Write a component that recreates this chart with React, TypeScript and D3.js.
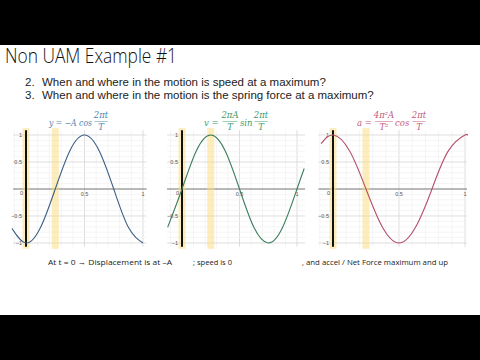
import * as d3 from 'd3'
import React from 'react'

// values (t in periods, value in units of amplitude)
const tDisp = [-0.12, 0, 0.125, 0.25, 0.375, 0.5, 0.625, 0.75, 0.875, 1]
const disp = [-0.73, -1, -0.71, 0, 0.71, 1, 0.71, 0, -0.71, -1]

const tVel = [-0.125, 0, 0.125, 0.25, 0.375, 0.5, 0.625, 0.75, 0.875, 1, 1.0625]
const vel = [-0.71, 0, 0.71, 1, 0.71, 0, -0.71, -1, -0.71, 0, 0.38]

const tAcc = [-0.09, 0, 0.125, 0.25, 0.375, 0.5, 0.625, 0.75, 0.875, 1, 1.015]
const acc = [0.84, 1, 0.71, 0, -0.71, -1, -0.71, 0, 0.71, 1, 0.99]

const xTickLabels = [0.5, 1]
const yTickLabels = [1, 0.5, -0.5, -1]
const highlightT = [0, 0.25]

const questions = [
  ['2.', 'When and where in the motion is speed at a maximum?'],
  ['3.', 'When and where in the motion is the spring force at a maximum?'],
]

const W = 480
const H = 360

interface PanelProps {
  t: number[]
  v: number[]
  x0: number
  x1: number
  tMin: number
  tMax: number
  color: string
}

const y = d3.scaleLinear().domain([-1, 1]).range([243, 135])

const isMajor = (d: number) => Math.abs(d * 2 - Math.round(d * 2)) < 1e-6

const Panel: React.FC<PanelProps> = ({ t, v, x0, x1, tMin, tMax, color }) => {
  const x = d3.scaleLinear().domain([0, 1]).range([x0, x1])
  const minorX = d3.range(Math.ceil(tMin * 10), Math.floor(tMax * 10) + 1).map((d) => d / 10)
  const minorY = d3.range(-10, 11).map((d) => d / 10)
  const yTop = y(1.09)
  const yBot = y(-1.07)

  const line = d3
    .line<number>()
    .x((d, i) => x(t[i]))
    .y((d) => y(d))
    .curve(d3.curveNatural)

  const lbl = { fontSize: 5.5, fill: '#555', fontFamily: 'Liberation Sans' }

  return (
    <g>
      {/* grid */}
      {minorX.map((d) => (
        <line key={'mx' + d} x1={x(d)} x2={x(d)} y1={yTop} y2={yBot} stroke={isMajor(d) ? '#d0d0d0' : '#f0f0f0'} strokeWidth={0.7} />
      ))}
      {minorY.map((d) => (
        <line key={'my' + d} x1={x(tMin)} x2={x(tMax)} y1={y(d)} y2={y(d)} stroke={isMajor(d) ? '#d0d0d0' : '#f0f0f0'} strokeWidth={0.7} />
      ))}
      {/* x axis */}
      <line x1={x(tMin)} x2={x(tMax)} y1={y(0)} y2={y(0)} stroke='#777' strokeWidth={0.9} />
      {/* highlight bands */}
      {highlightT.map((d) => (
        <rect key={'h' + d} x={x(d) - 3.5} width={7} y={yTop - 2} height={yBot - yTop + 4} fill='#fbd97a' opacity={0.5} />
      ))}
      <line x1={x(0)} x2={x(0)} y1={yTop} y2={yBot} stroke='#111' strokeWidth={2} />
      {/* tick labels */}
      {yTickLabels.map((d) => (
        <text key={'yl' + d} x={x(0) - 4} y={y(d) + 2} textAnchor='end' style={lbl}>
          {d < 0 ? '\u2212' + Math.abs(d) : d}
        </text>
      ))}
      <text x={x(0) - 3} y={y(0) + 6} textAnchor='end' style={lbl}>
        0
      </text>
      {xTickLabels.map((d) => (
        <text key={'xl' + d} x={x(d)} y={y(0) + 6.5} textAnchor='middle' style={lbl}>
          {d}
        </text>
      ))}
      <path d={line(v) || ''} fill='none' stroke={color} strokeWidth={1.1} />
    </g>
  )
}

type ReactNodeLike = React.ReactNode

const Frac: React.FC<{ cx: number; num: ReactNodeLike; den: ReactNodeLike; w: number }> = ({ cx, num, den, w }) => (
  <g>
    <text x={cx} y={118} textAnchor='middle'>
      {num}
    </text>
    <line x1={cx - w / 2} x2={cx + w / 2} y1={121.5} y2={121.5} stroke='currentColor' strokeWidth={0.5} />
    <text x={cx} y={130} textAnchor='middle'>
      {den}
    </text>
  </g>
)

const formulaStyle = { fontFamily: 'DejaVu Serif', fontStyle: 'italic', fontSize: 8.5 } as const

const App: React.FC = () => {
  return (
    <svg width={W} height={H} style={{ position: 'absolute', left: 0, top: 0, background: '#fff' }}>
      <rect x={0} y={0} width={W} height={45} fill='#000' />
      <rect x={0} y={315} width={W} height={45} fill='#000' />

      <text x={5} y={63} style={{ fontFamily: 'Open Sans', fontWeight: 300, fontSize: 20, fill: '#111' }} textLength={172} lengthAdjust='spacingAndGlyphs'>
        Non UAM Example #1
      </text>
      {questions.map((q, i) => (
        <g key={q[0]} style={{ fontFamily: 'Liberation Sans', fontSize: 11.5, fill: '#222' }}>
          <text x={25} y={86 + i * 12.5}>
            {q[0]}
          </text>
          <text x={42} y={86 + i * 12.5}>
            {q[1]}
          </text>
        </g>
      ))}

      {/* formulas */}
      <g style={{ ...formulaStyle, fill: '#4f86b0', color: '#4f86b0' }}>
        <text x={49} y={126} textLength={43} lengthAdjust='spacingAndGlyphs'>
          y = −A cos
        </text>
        <Frac cx={101} num='2πt' den='T' w={13} />
      </g>
      <g style={{ ...formulaStyle, fill: '#3f9a6c', color: '#3f9a6c' }}>
        <text x={204} y={126}>
          v =
        </text>
        <Frac cx={230} num='2πA' den='T' w={15} />
        <text x={240} y={126}>
          sin
        </text>
        <Frac cx={261} num='2πt' den='T' w={13} />
      </g>
      <g style={{ ...formulaStyle, fill: '#c25a7c', color: '#c25a7c' }}>
        <text x={357} y={126}>
          a =
        </text>
        <Frac cx={384} num='4π²A' den='T²' w={18} />
        <text x={395} y={126}>
          cos
        </text>
        <Frac cx={419} num='2πt' den='T' w={13} />
      </g>

      <Panel t={tDisp} v={disp} x0={26} x1={143} tMin={-0.11} tMax={1.03} color='#3d5f85' />
      <Panel t={tVel} v={vel} x0={182} x1={297} tMin={-0.13} tMax={1.07} color='#3b7d5c' />
      <Panel t={tAcc} v={acc} x0={333} x1={465} tMin={-0.11} tMax={1.015} color='#b4506a' />

      <g style={{ fontFamily: 'Open Sans', fontSize: 7.5, fill: '#222' }}>
        <text x={48} y={265} textLength={124} lengthAdjust='spacingAndGlyphs'>
          At t = 0 →  Displacement is at –A
        </text>
        <text x={193} y={265} textLength={39} lengthAdjust='spacingAndGlyphs'>
          ; speed is 0
        </text>
        <text x={302} y={265} textLength={146} lengthAdjust='spacingAndGlyphs'>
          , and accel / Net Force maximum and up
        </text>
      </g>
    </svg>
  )
}

export default App
